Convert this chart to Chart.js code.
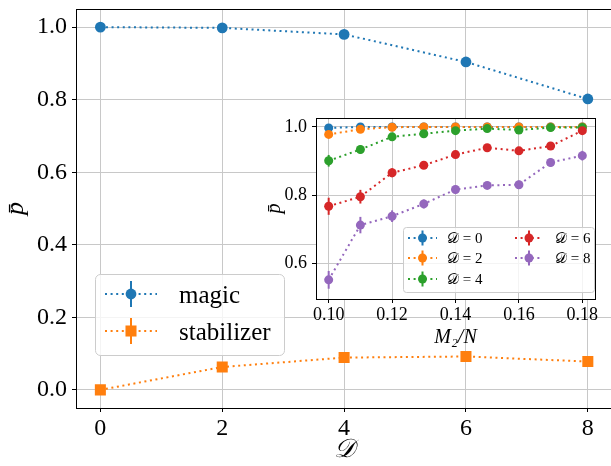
<!DOCTYPE html>
<html><head><meta charset="utf-8">
<script src="https://cdn.jsdelivr.net/npm/chart.js@4/dist/chart.umd.min.js"></script>
<style>
html,body{margin:0;padding:0;background:#fff;overflow:hidden}
#wrap{position:relative;width:611px;height:466px;overflow:hidden}
#main{position:absolute;left:0;top:0}
#inset{position:absolute;left:258px;top:112px}
</style></head>
<body><div id="wrap">
<canvas id="main" width="620" height="466"></canvas>
<canvas id="inset" width="353" height="240"></canvas>
</div>
<script>
// ---------- main panel data ----------
const D_VALUES = [0, 2, 4, 6, 8];
const MAGIC_P = [1.000, 0.998, 0.980, 0.904, 0.802];
const MAGIC_ERR = [0.000, 0.002, 0.004, 0.006, 0.008];
const STAB_P = [0.000, 0.063, 0.089, 0.092, 0.078];
const STAB_ERR = [0.000, 0.004, 0.005, 0.005, 0.005];
const MAIN_X_TICKS = [0, 2, 4, 6, 8];
const MAIN_Y_TICKS = [0.0, 0.2, 0.4, 0.6, 0.8, 1.0];
const MAIN_LABELS = ['magic', 'stabilizer'];

// ---------- inset data ----------
const M2N = [0.10, 0.11, 0.12, 0.13, 0.14, 0.15, 0.16, 0.17, 0.18];
const P_D0 = [0.997, 1.000, 1.000, 1.000, 1.000, 1.000, 1.000, 1.000, 1.000];
const P_D2 = [0.978, 0.993, 0.999, 1.000, 1.000, 1.000, 1.000, 1.000, 1.000];
const P_D4 = [0.901, 0.934, 0.971, 0.980, 0.989, 0.995, 0.991, 0.998, 0.998];
const P_D6 = [0.768, 0.796, 0.866, 0.888, 0.919, 0.939, 0.930, 0.944, 0.989];
const P_D8 = [0.553, 0.713, 0.739, 0.775, 0.817, 0.829, 0.831, 0.896, 0.916];
const ERR_D0 = [0.002, 0.001, 0.001, 0.001, 0.001, 0.001, 0.001, 0.001, 0.001];
const ERR_D2 = [0.006, 0.004, 0.002, 0.002, 0.002, 0.002, 0.002, 0.002, 0.002];
const ERR_D4 = [0.017, 0.012, 0.008, 0.006, 0.006, 0.005, 0.006, 0.005, 0.005];
const ERR_D6 = [0.025, 0.020, 0.013, 0.010, 0.010, 0.008, 0.008, 0.008, 0.008];
const ERR_D8 = [0.026, 0.024, 0.017, 0.013, 0.012, 0.010, 0.012, 0.012, 0.014];
const INSET_X_TICKS = [0.10, 0.12, 0.14, 0.16, 0.18];
const INSET_Y_TICKS = [0.6, 0.8, 1.0];
const INSET_LABELS = ['𝒟 = 0', '𝒟 = 2', '𝒟 = 4', '𝒟 = 6', '𝒟 = 8'];

const C = {blue:'#1f77b4', orange:'#ff7f0e', green:'#2ca02c', red:'#d62728', purple:'#9467bd'};
const SERIF = '"Liberation Serif", "DejaVu Serif", serif';
const DOT = [2, 3.6];
const GRID = '#c8c8c8';

function pts(xs, ys){ return xs.map((x,i)=>({x:x, y:ys[i]})); }
function fixedTicks(arr){ return s => { s.ticks = arr.map(v=>({value:v})); }; }
function noPad(s){ s.paddingTop = 0; s.paddingBottom = 0; s.paddingLeft = 0; s.paddingRight = 0; }

function drawMarker(ctx, style, x, y, r, color){
  ctx.fillStyle = color;
  ctx.beginPath();
  if (style === 'rect'){ const h = r / Math.SQRT2; ctx.rect(x-h, y-h, 2*h, 2*h); }
  else { ctx.arc(x, y, r, 0, Math.PI*2); }
  ctx.fill();
}

const errorBars = {
  id: 'errorBars',
  beforeDatasetDraw(chart, args){
    const ds = chart.data.datasets[args.index];
    if (!ds.errors) return;
    const ctx = chart.ctx, ys = chart.scales.y;
    ctx.save();
    ctx.strokeStyle = ds.borderColor; ctx.lineWidth = ds.errWidth || 2; ctx.setLineDash([]);
    args.meta.data.forEach((p,i)=>{
      const v = ds.data[i].y, e = ds.errors[i];
      if (!e) return;
      ctx.beginPath();
      ctx.moveTo(p.x, ys.getPixelForValue(v - e));
      ctx.lineTo(p.x, ys.getPixelForValue(v + e));
      ctx.stroke();
    });
    ctx.restore();
  }
};

const frame = {
  id: 'frame',
  beforeDraw(chart, args, o){
    if (o.fill){ const a = chart.chartArea; chart.ctx.save(); chart.ctx.fillStyle = o.fill; chart.ctx.fillRect(a.left, a.top, a.right-a.left, a.bottom-a.top); chart.ctx.restore(); }
  },
  beforeDatasetsDraw(chart){
    const a = chart.chartArea, ctx = chart.ctx;
    ctx.save(); ctx.strokeStyle = '#000'; ctx.lineWidth = 1;
    ctx.strokeRect(Math.round(a.left)+0.5, Math.round(a.top)+0.5, Math.round(a.right)-Math.round(a.left), Math.round(a.bottom)-Math.round(a.top));
    ctx.restore();
  }
};

function roundRect(ctx, x, y, w, h, r){
  ctx.beginPath();
  ctx.moveTo(x+r, y); ctx.lineTo(x+w-r, y); ctx.arcTo(x+w, y, x+w, y+r, r);
  ctx.lineTo(x+w, y+h-r); ctx.arcTo(x+w, y+h, x+w-r, y+h, r);
  ctx.lineTo(x+r, y+h); ctx.arcTo(x, y+h, x, y+h-r, r);
  ctx.lineTo(x, y+r); ctx.arcTo(x, y, x+r, y, r); ctx.closePath();
}

const boxLegend = {
  id: 'boxLegend',
  afterDraw(chart, args, o){
    const ctx = chart.ctx;
    ctx.save();
    roundRect(ctx, o.box[0], o.box[1], o.box[2], o.box[3], o.radius);
    ctx.fillStyle = 'rgba(255,255,255,0.8)'; ctx.fill();
    ctx.strokeStyle = '#cccccc'; ctx.lineWidth = 1; ctx.stroke();
    chart.data.datasets.forEach((ds, i) => {
      const [x1, x2, y, tx] = o.items[i];
      ctx.strokeStyle = ds.borderColor; ctx.lineWidth = ds.borderWidth; ctx.setLineDash(ds.borderDash);
      ctx.beginPath(); ctx.moveTo(x1, y); ctx.lineTo(x2, y); ctx.stroke();
      ctx.setLineDash([]);
      const xm = (x1 + x2) / 2;
      ctx.lineWidth = o.errWidth; ctx.beginPath(); ctx.moveTo(xm, y - o.errHalf); ctx.lineTo(xm, y + o.errHalf); ctx.stroke();
      drawMarker(ctx, ds.pointStyle, xm, y, ds.pointRadius, ds.borderColor);
      ctx.fillStyle = '#000'; ctx.font = o.font; ctx.textBaseline = 'alphabetic'; ctx.textAlign = 'left';
      ctx.fillText(ds.label, tx, y + o.baseOff);
    });
    ctx.restore();
  }
};

function series(label, xs, ys, errs, color, style, r, order){
  return {label, data: pts(xs, ys), errors: errs, borderColor: color, backgroundColor: color,
    borderWidth: 2, borderDash: DOT, pointStyle: style, pointRadius: r, pointHoverRadius: r,
    pointBorderWidth: 0, pointBackgroundColor: color, showLine: true, fill: false, tension: 0, order, errWidth: 2};
}

function axis(min, max, ticks, fmt, fontSize, pad, title, size, isX){
  return {
    type: 'linear', min, max, afterBuildTicks: fixedTicks(ticks),
    afterFit: s => { noPad(s); if (isX) s.height = size; else s.width = size; },
    grid: {color: GRID, lineWidth: 1, tickColor: '#000', tickLength: 4, drawTicks: true},
    border: {color: '#000', width: 1},
    ticks: {color: '#000', font: {family: SERIF, size: fontSize}, padding: pad, callback: fmt, maxRotation: 0, autoSkip: false},
    title: title
  };
}

new Chart(document.getElementById('main'), {
  type: 'scatter',
  data: { datasets: [
    series(MAIN_LABELS[0], D_VALUES, MAGIC_P, MAGIC_ERR, C.blue, 'circle', 5.4, 2),
    series(MAIN_LABELS[1], D_VALUES, STAB_P, STAB_ERR, C.orange, 'rect', 7.8, 1)
  ]},
  options: {
    responsive: false, animation: false, devicePixelRatio: 1,
    layout: {padding: {left: 0, top: 9, right: 0, bottom: 0}},
    plugins: {
      legend: {display: false}, tooltip: {enabled: false},
      frame: {},
      boxLegend: {box: [95.5, 274.5, 189, 81], radius: 5, errHalf: 13, errWidth: 2,
        font: '25px ' + SERIF, baseOff: 9,
        items: [[105, 157, 294, 179], [105, 157, 331, 179]]}
    },
    scales: {
      x: axis(-0.4, 8.4, MAIN_X_TICKS, v => String(v), 24, 2,
        {display: true, text: '𝒟', color: '#000', font: {family: SERIF, size: 26, style: 'italic', lineHeight: 1}, padding: {top: 0, bottom: 3}},
        58, true),
      y: axis(-0.05, 1.05, MAIN_Y_TICKS, v => v.toFixed(1), 24, 5,
        {display: true, text: 'p̄', color: '#000', font: {family: SERIF, size: 26, style: 'italic', lineHeight: 1}, padding: {top: 3, bottom: 0}},
        76, false)
    }
  },
  plugins: [errorBars, frame, boxLegend]
});

new Chart(document.getElementById('inset'), {
  type: 'scatter',
  data: { datasets: [
    series(INSET_LABELS[0], M2N, P_D0, ERR_D0, C.blue, 'circle', 4.5, 5),
    series(INSET_LABELS[1], M2N, P_D2, ERR_D2, C.orange, 'circle', 4.5, 4),
    series(INSET_LABELS[2], M2N, P_D4, ERR_D4, C.green, 'circle', 4.5, 3),
    series(INSET_LABELS[3], M2N, P_D6, ERR_D6, C.red, 'circle', 4.5, 2),
    series(INSET_LABELS[4], M2N, P_D8, ERR_D8, C.purple, 'circle', 4.5, 1)
  ]},
  options: {
    responsive: false, animation: false, devicePixelRatio: 1,
    layout: {padding: {left: 0, top: 6, right: 16, bottom: 0}},
    plugins: {
      legend: {display: false}, tooltip: {enabled: false},
      frame: {fill: '#ffffff'},
      boxLegend: {box: [145.5, 115.5, 191, 65], radius: 3, errHalf: 7.5, errWidth: 2,
        font: '15px ' + SERIF, baseOff: 5,
        items: [[150, 179, 126, 189], [150, 179, 146, 189], [150, 179, 167, 189],
                [257, 285, 126, 297], [257, 285, 146, 297]]}
    },
    scales: {
      x: axis(0.096, 0.184, INSET_X_TICKS, v => v.toFixed(2), 18, 1.5,
        {display: true, text: 'M₂/N', color: '#000', font: {family: SERIF, size: 20, style: 'italic', lineHeight: 1}, padding: {top: 0, bottom: 4}},
        53, true),
      y: axis(0.497, 1.026, INSET_Y_TICKS, v => v.toFixed(1), 18, 5,
        {display: true, text: 'p̄', color: '#000', font: {family: SERIF, size: 20, style: 'italic', lineHeight: 1}, padding: {top: 7, bottom: 0}},
        58, false)
    }
  },
  plugins: [errorBars, frame, boxLegend]
});
</script>
</body></html>
